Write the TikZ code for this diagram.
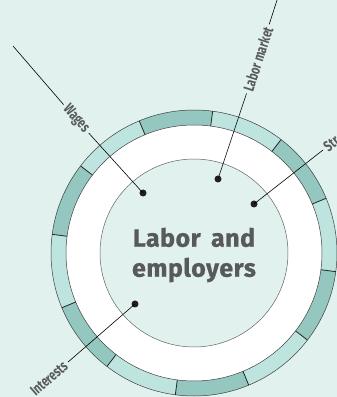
\documentclass[tikz,border=0pt]{standalone}
\usepackage{fontspec}
\setmainfont{Fira Sans}
\newfontfamily\lblfont[FakeStretch=0.72]{Fira Sans}
\newfontfamily\titlefont[LetterSpace=2,WordSpace=1.6,BoldFeatures={FakeBold=0.8}]{Fira Sans}
\usepackage{xcolor}
\definecolor{bgteal}{HTML}{E0F1EE}
\definecolor{segdark}{HTML}{93C7C0}
\definecolor{seglight}{HTML}{BDE4DE}
\definecolor{txtgray}{HTML}{58595B}
\definecolor{dotblack}{HTML}{231F20}

\tikzset{
  pindot/.style={circle,fill=dotblack,inner sep=0pt,minimum size=7pt},
  lbl/.style={font=\lblfont\bfseries\fontsize{15}{15}\selectfont,text=txtgray,inner sep=3pt},
  lead/.style={draw=black,line width=0.6pt},
  ringline/.style={draw=black!75,line width=0.5pt},
  sepline/.style={draw=black!85,line width=0.8pt},
  title/.style={font=\titlefont\bfseries\fontsize{25}{30}\selectfont,text=txtgray,align=center}
}

\begin{document}
\begin{tikzpicture}[x=1pt,y=1pt]
  \useasboundingbox[fill=bgteal] (0,0) rectangle (337,397);
  \coordinate (c) at (194,144);

  \fill[seglight] (c) circle (143);
  \foreach \a in {22.5,82.5,...,322.5}
    \fill[segdark] (c) -- ++(\a:143) arc[start angle=\a,end angle=\a+30,radius=143] -- cycle;
  \fill[white] (c) circle (128);
  \draw[ringline] (c) circle (143) (c) circle (128);
  \foreach \a in {22.5,52.5,...,352.5}
    \draw[sepline] (c) ++(\a:128) -- ++(\a:15);
  \draw[draw=black!60,line width=0.5pt,fill=bgteal] (c) circle (94);

  \node[title] (hub) at (194,142) {Labor and\\employers};

  \node[pindot] (wdot) at (143,204) {};
  \node[pindot] (mdot) at (218,218) {};
  \node[pindot] (sdot) at (254,193) {};
  \node[pindot] (idot) at (135,93) {};

  \node[lbl,rotate=-48] (wlbl) at (76,278) {Wages};
  \node[lbl,rotate=72] (mlbl) at (258,338) {Labor market};
  \node[lbl,rotate=38,anchor=west] (slbl) at (323,247) {Str};
  \node[lbl,rotate=41,anchor=east] (ilbl) at (68,35) {Interests};

  \coordinate (wend) at (13,351);
  \coordinate (mend) at (279,403);

  \draw[lead] (wdot.center) -- (wlbl) (wlbl) -- (wend);
  \draw[lead] (mdot.center) -- (mlbl) (mlbl) -- (mend);
  \draw[lead] (sdot.center) -- (slbl);
  \draw[lead] (idot.center) -- (ilbl);
\end{tikzpicture}
\end{document}
